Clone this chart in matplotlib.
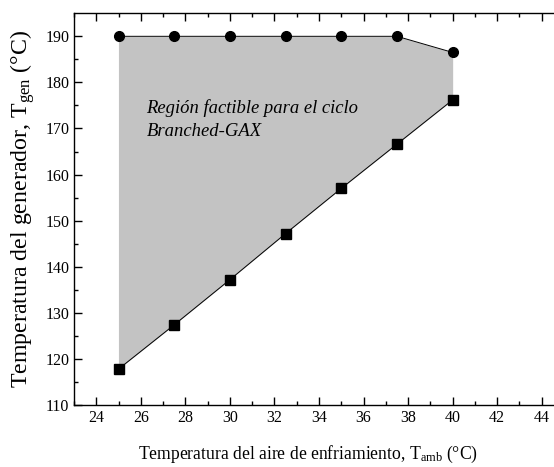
import numpy as np
import matplotlib
matplotlib.use("Agg")
import matplotlib.pyplot as plt

t_amb = [25, 27.5, 30, 32.5, 35, 37.5, 40]
t_gen_max = [190, 190, 190, 190, 190, 190, 186.5]
t_gen_min = [117.8, 127.4, 137.2, 147.2, 157.0, 166.6, 176.2]

plt.rcParams['font.family'] = ['Liberation Serif', 'DejaVu Serif']
plt.rcParams['mathtext.fontset'] = 'custom'
plt.rcParams['mathtext.rm'] = 'Liberation Serif'
plt.rcParams['mathtext.it'] = 'Liberation Serif:italic'

fig = plt.figure(figsize=(5.54, 4.67), dpi=100)
ax = fig.add_axes([0.1336, 0.1328, 0.8845, 0.8388])

ax.fill_between(t_amb, t_gen_min, t_gen_max, color='#c3c3c3', lw=0)
ax.plot([t_amb[0], t_amb[0]], [t_gen_min[0], t_gen_max[0]], color='#c3c3c3', lw=0.8)
ax.plot(t_amb, t_gen_max, 'k-', lw=0.7, marker='o', ms=7)
ax.plot(t_amb, t_gen_min, 'k-', lw=0.7, marker='s', ms=6.5)

ax.text(26.25, 173.4, 'Región factible para el ciclo', style='italic', fontsize=13.4)
ax.text(26.25, 168.4, 'Branched-GAX', style='italic', fontsize=13.4)

ax.set_xlim(23, 45)
ax.set_ylim(110, 195)
ax.set_xticks(np.arange(24, 45, 2))
ax.set_xticks(np.arange(23, 45, 1), minor=True)
ax.set_yticks(np.arange(110, 191, 10))
ax.set_yticks(np.arange(115, 195, 10), minor=True)
ax.tick_params(which='both', direction='in', top=True, right=False, labelsize=11.5, width=1)
ax.tick_params(which='major', length=6)
ax.tick_params(which='minor', length=3)
for s in ax.spines.values():
    s.set_linewidth(1)

ax.set_xlabel('Temperatura del aire de enfriamiento, T$_{\\mathrm{amb}}$ (°C)', fontsize=12.7)
ax.xaxis.set_label_coords(0.478, -0.1)
ax.set_ylabel('Temperatura del generador, T$_{\\mathrm{gen}}$ (°C)', fontsize=17.2, labelpad=6)

fig.savefig('out.png', dpi=100)
